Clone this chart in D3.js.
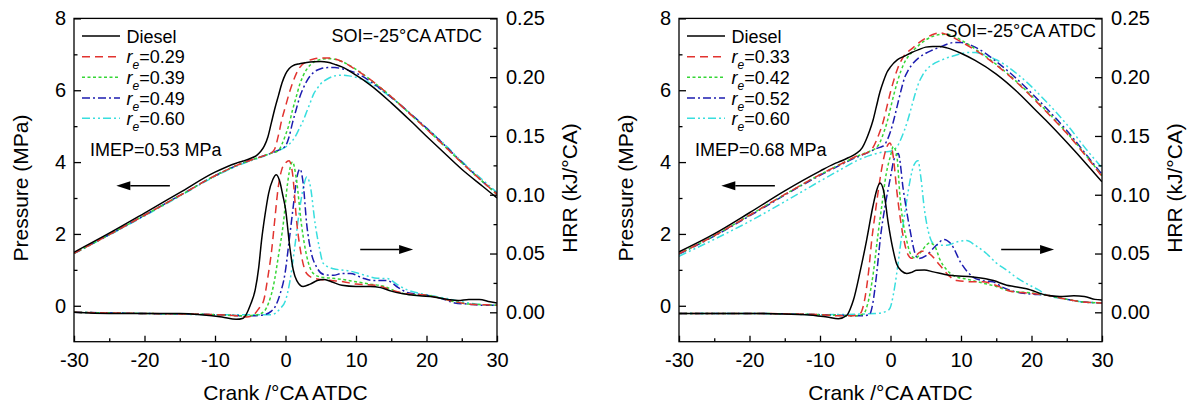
<!DOCTYPE html>
<html>
<head>
<meta charset="utf-8">
<style>
  body { margin: 0; background: #fff; }
  svg text { font-family: "Liberation Sans", Arial, sans-serif; fill: #000; }
  .axis line { stroke: #000; stroke-width: 1.3; }
  .axis path { display: none; }
  .axis text { font-size: 20px; font-family: "Liberation Sans", Arial, sans-serif; }
</style>
<script src="https://d3js.org/d3.v7.min.js"></script>
</head>
<body>
<svg id="chart" width="1190" height="407"></svg>
<script>
// ---- axis ticks ----
var crankMajor = [-30, -20, -10, 0, 10, 20, 30];
var crankMinor = [-25, -15, -5, 5, 15, 25];
var pressMajor = [0, 2, 4, 6, 8];
var pressMinor = [1, 3, 5, 7];
var hrrMajor = [0, 0.05, 0.1, 0.15, 0.2, 0.25];
var hrrMinor = [0.025, 0.075, 0.125, 0.175, 0.225];

// ---- legend / series ----
var leftLabels = ["Diesel", "0.29", "0.39", "0.49", "0.60"];
var rightLabels = ["Diesel", "0.33", "0.42", "0.52", "0.60"];
var colors = ["#000000", "#e2332f", "#36d636", "#1c1cb0", "#38dede"];
var dashes = [null, "8,5", "3,2.5", "8,3,2,3", "8,3,2,3,2,3"];

// ---- left panel: pressure (MPa) vs crank ----
var leftPDiesel = [[-30,1.49],[-25,2.02],[-20,2.58],[-15,3.15],[-10,3.72],[-7,3.97],[-6,4.03],[-5,4.1],[-4,4.2],[-3.5,4.3],[-3,4.45],[-2.5,4.7],[-2,5.1],[-1.5,5.5],[-1,5.85],[-0.5,6.2],[0,6.45],[0.5,6.6],[1,6.68],[2,6.74],[3,6.77],[4,6.79],[5,6.8],[6,6.78],[7,6.72],[8,6.65],[10,6.42],[12,6.15],[15,5.65],[18,5.1],[20,4.72],[22,4.35],[25,3.8],[28,3.32],[30,3.0]];
var leftPRe1 = [[-30,1.46],[-25,1.98],[-20,2.52],[-15,3.07],[-10,3.62],[-7,3.9],[-5,4.05],[-3,4.18],[-2,4.26],[-1.5,4.38],[-1,4.75],[-0.5,5.2],[0,5.55],[0.5,5.9],[1,6.2],[1.5,6.45],[2,6.63],[3,6.8],[4,6.87],[5,6.9],[6,6.9],[7,6.87],[8,6.8],[10,6.57],[12,6.3],[15,5.82],[18,5.28],[20,4.92],[22,4.55],[25,3.98],[28,3.45],[30,3.1]];
var leftPRe2 = [[-30,1.46],[-25,1.98],[-20,2.52],[-15,3.07],[-10,3.62],[-7,3.9],[-5,4.05],[-3,4.18],[-2,4.25],[-1,4.32],[-0.5,4.5],[0,4.75],[0.5,5.05],[1,5.45],[1.5,5.8],[2,6.15],[2.5,6.4],[3,6.58],[4,6.78],[5,6.86],[6,6.88],[7,6.86],[8,6.8],[10,6.58],[12,6.3],[15,5.82],[18,5.28],[20,4.92],[22,4.55],[25,3.98],[28,3.45],[30,3.1]];
var leftPRe3 = [[-30,1.46],[-25,1.98],[-20,2.52],[-15,3.07],[-10,3.62],[-7,3.9],[-5,4.05],[-3,4.18],[-2,4.25],[-1,4.33],[0,4.45],[0.5,4.7],[1,5.1],[1.5,5.45],[2,5.8],[2.5,6.05],[3,6.25],[3.5,6.4],[4,6.5],[5,6.6],[6,6.63],[7,6.63],[8,6.6],[10,6.48],[12,6.25],[15,5.8],[18,5.3],[20,4.95],[22,4.58],[25,4.0],[28,3.45],[30,3.12]];
var leftPRe4 = [[-30,1.45],[-25,1.97],[-20,2.5],[-15,3.05],[-10,3.6],[-7,3.88],[-5,4.03],[-3,4.17],[-2,4.25],[-1,4.32],[0,4.42],[1,4.6],[1.5,4.75],[2,4.95],[2.5,5.15],[3,5.4],[3.5,5.65],[4,5.9],[4.5,6.05],[5,6.18],[6,6.32],[7,6.4],[8,6.42],[9,6.4],[10,6.36],[12,6.2],[15,5.8],[18,5.3],[20,4.95],[22,4.6],[25,4.02],[28,3.5],[30,3.15]];

// ---- left panel: HRR (kJ/°CA) vs crank ----
var leftHDiesel = [[-30,0],[-25,-0.001],[-20,-0.001],[-15,-0.001],[-12,-0.002],[-9,-0.004],[-7,-0.006],[-6,-0.005],[-5.5,-0.001],[-5,0.006],[-4.3,0.019],[-3.8,0.038],[-3.4,0.061],[-2.9,0.083],[-2.4,0.101],[-1.8,0.113],[-1.3,0.117],[-0.8,0.111],[-0.4,0.1],[0,0.088],[0.6,0.056],[1.1,0.036],[1.6,0.027],[2.5,0.022],[3.5,0.024],[4.5,0.027],[5.4,0.028],[6.5,0.026],[8,0.023],[10,0.022],[12,0.022],[13.5,0.021],[15,0.018],[16.5,0.016],[19,0.014],[21,0.013],[23,0.011],[24.5,0.01],[26,0.011],[27.5,0.011],[29,0.009],[30,0.008]];
var leftHRe1 = [[-30,0],[-20,-0.001],[-10,-0.002],[-7,-0.003],[-5.5,-0.004],[-4.5,-0.002],[-3.8,0.003],[-3.1,0.01],[-2.5,0.03],[-1.96,0.053],[-1.5,0.08],[-1.06,0.105],[-0.5,0.122],[0,0.127],[0.5,0.129],[1,0.118],[1.6,0.076],[2.2,0.05],[3,0.033],[4,0.029],[5,0.028],[6.5,0.027],[8.2,0.026],[10,0.024],[12.9,0.023],[15,0.019],[17,0.016],[20,0.0145],[22,0.012],[24,0.009],[26,0.007],[28,0.0065],[30,0.006]];
var leftHRe2 = [[-30,0],[-20,-0.001],[-10,-0.002],[-6,-0.003],[-4,-0.002],[-3,0.001],[-2.4,0.008],[-1.73,0.022],[-1,0.048],[-0.3,0.076],[0.3,0.11],[0.7,0.124],[1,0.128],[1.5,0.115],[2.3,0.073],[3,0.048],[3.95,0.033],[5,0.03],[6.5,0.029],[8,0.028],[10,0.026],[12,0.024],[14,0.022],[16,0.017],[18,0.015],[20,0.0145],[22,0.012],[24,0.009],[26,0.007],[28,0.0065],[30,0.006]];
var leftHRe3 = [[-30,0],[-20,-0.001],[-10,-0.002],[-5,-0.003],[-3,-0.002],[-2,0.001],[-1.5,0.0045],[-0.8,0.015],[-0.07,0.033],[0.5,0.06],[1.1,0.09],[1.6,0.114],[2.06,0.122],[2.5,0.11],[3,0.0755],[3.6,0.052],[4.4,0.0386],[5.5,0.032],[6.8,0.0315],[8,0.033],[9.2,0.033],[11,0.029],[12.5,0.027],[14.4,0.027],[16,0.021],[17.2,0.017],[20,0.0145],[22,0.012],[24,0.008],[26,0.007],[28,0.006],[30,0.006]];
var leftHRe4 = [[-30,0],[-20,-0.001],[-10,-0.002],[-5,-0.002],[-2,-0.002],[-0.78,0.003],[0,0.01],[0.64,0.027],[1.3,0.055],[2.06,0.09],[2.6,0.108],[3,0.115],[3.5,0.108],[4.2,0.0755],[4.8,0.055],[5.37,0.0415],[6.8,0.037],[8,0.036],[9.2,0.035],[11,0.032],[13,0.029],[14.4,0.0287],[16,0.023],[17.2,0.0193],[20,0.015],[22.9,0.0117],[25,0.009],[27,0.007],[30,0.006]];

// ---- right panel: pressure (MPa) vs crank ----
var rightPDiesel = [[-30,1.5],[-25,2.0],[-20,2.59],[-15,3.2],[-10,3.75],[-8,3.95],[-7,4.03],[-6,4.12],[-5,4.22],[-4,4.4],[-3.5,4.6],[-3,4.85],[-2.5,5.15],[-2,5.55],[-1.5,5.95],[-1,6.25],[-0.5,6.5],[0,6.65],[1,6.85],[2,6.95],[3,7.05],[4,7.13],[5,7.2],[6,7.22],[7,7.22],[8,7.18],[10,7.03],[12,6.83],[15,6.45],[18,5.95],[20,5.56],[22,5.17],[25,4.55],[28,3.9],[30,3.45]];
var rightPRe1 = [[-30,1.45],[-25,1.95],[-20,2.52],[-15,3.1],[-10,3.65],[-7,3.95],[-5,4.15],[-3,4.3],[-2.5,4.4],[-2,4.6],[-1.5,4.85],[-1,5.15],[-0.5,5.55],[0,5.95],[0.5,6.3],[1,6.6],[1.5,6.82],[2,6.98],[3,7.15],[4,7.32],[5,7.45],[6,7.55],[7,7.6],[8,7.55],[10,7.35],[12,7.12],[15,6.7],[18,6.2],[20,5.82],[22,5.42],[25,4.8],[28,4.1],[30,3.6]];
var rightPRe2 = [[-30,1.45],[-25,1.95],[-20,2.52],[-15,3.1],[-10,3.65],[-7,3.95],[-5,4.14],[-3,4.3],[-2,4.4],[-1.5,4.55],[-1,4.8],[-0.5,5.1],[0,5.5],[0.5,5.9],[1,6.25],[1.5,6.55],[2,6.78],[3,7.05],[4,7.25],[5,7.4],[6,7.5],[7,7.55],[8,7.56],[9,7.5],[10,7.4],[12,7.15],[15,6.72],[18,6.22],[20,5.85],[22,5.45],[25,4.82],[28,4.12],[30,3.62]];
var rightPRe3 = [[-30,1.44],[-25,1.94],[-20,2.5],[-15,3.08],[-10,3.63],[-7,3.93],[-5,4.12],[-3,4.28],[-2,4.38],[-1,4.45],[-0.5,4.6],[0,4.85],[0.5,5.2],[1,5.6],[1.5,6.0],[2,6.35],[2.5,6.55],[3,6.7],[4,6.9],[5,7.03],[6,7.12],[7,7.2],[8,7.28],[9,7.33],[10,7.33],[11,7.28],[12,7.2],[15,6.8],[18,6.3],[20,5.92],[22,5.52],[25,4.88],[28,4.15],[30,3.66]];
var rightPRe4 = [[-30,1.38],[-25,1.85],[-20,2.35],[-15,2.9],[-10,3.47],[-7,3.8],[-5,4.02],[-3,4.18],[-1,4.28],[0,4.3],[1,4.45],[1.5,4.65],[2,4.9],[2.5,5.2],[3,5.55],[3.5,5.9],[4,6.2],[4.5,6.4],[5,6.55],[6,6.72],[7,6.82],[8,6.9],[9,6.96],[10,7.02],[11,7.05],[12,7.05],[13,7.0],[15,6.85],[18,6.45],[20,6.1],[22,5.7],[25,5.05],[28,4.3],[30,3.84]];

// ---- right panel: HRR (kJ/°CA) vs crank ----
var rightHDiesel = [[-30,-0.001],[-20,-0.001],[-12,-0.002],[-9,-0.004],[-7.4,-0.0054],[-6.2,-0.0026],[-5.7,0.003],[-5.27,0.0102],[-4.3,0.035],[-3.4,0.061],[-2.5,0.09],[-2,0.103],[-1.49,0.11],[-1,0.104],[-0.31,0.0755],[0.3,0.055],[0.88,0.041],[1.6,0.035],[2.3,0.033],[3,0.034],[3.7,0.0358],[4.8,0.036],[6.07,0.0344],[8.4,0.0315],[11.7,0.03],[14.6,0.027],[16.5,0.023],[17.5,0.022],[19.3,0.02],[22.2,0.0145],[24,0.0135],[26,0.014],[27.5,0.0135],[29,0.011],[30,0.0105]];
var rightHRe1 = [[-30,-0.001],[-20,-0.001],[-10,-0.002],[-7,-0.003],[-5.5,-0.003],[-4.3,-0.001],[-3.6,0.013],[-3.1,0.035],[-2.67,0.061],[-2.2,0.083],[-1.72,0.104],[-1,0.13],[-0.5,0.141],[-0.07,0.144],[0.4,0.132],[0.88,0.104],[1.82,0.064],[2.4,0.05],[3,0.046],[4.5,0.052],[5.5,0.05],[7,0.04],[8.3,0.031],[9.4,0.027],[11.7,0.026],[13,0.026],[15.5,0.0216],[17,0.018],[19.3,0.0165],[22.2,0.0145],[25,0.011],[27,0.009],[30,0.008]];
var rightHRe2 = [[-30,-0.001],[-20,-0.001],[-10,-0.002],[-5,-0.003],[-3.8,-0.001],[-3.2,0.008],[-2.45,0.033],[-1.8,0.065],[-1.25,0.09],[-0.6,0.118],[0,0.133],[0.4,0.141],[0.9,0.133],[1.35,0.098],[2.3,0.061],[3,0.048],[3.6,0.046],[4.5,0.053],[5.6,0.059],[6.3,0.056],[7,0.045],[8,0.036],[9,0.031],[11,0.028],[13,0.025],[15,0.022],[17,0.018],[20,0.0165],[22.2,0.0145],[25,0.011],[27,0.009],[30,0.008]];
var rightHRe3 = [[-30,-0.001],[-20,-0.001],[-10,-0.002],[-4,-0.003],[-3,-0.002],[-2.5,0.008],[-1.96,0.033],[-1.4,0.065],[-0.78,0.09],[0,0.115],[0.5,0.13],[1.1,0.135],[1.82,0.104],[2.77,0.07],[3.48,0.05],[3.94,0.0457],[5,0.048],[6.5,0.057],[7.6,0.062],[8.6,0.058],[10,0.042],[11.7,0.03],[13,0.027],[14.5,0.026],[16,0.021],[18,0.017],[20,0.0155],[22.2,0.0145],[25,0.011],[27,0.009],[30,0.008]];
var rightHRe4 = [[-30,-0.001],[-20,-0.001],[-10,-0.002],[-2,-0.001],[-0.5,0.001],[-0.07,0.0035],[0.4,0.015],[0.88,0.033],[1.3,0.052],[1.82,0.076],[2.3,0.095],[2.77,0.112],[3.3,0.125],[3.9,0.129],[4.3,0.115],[4.8,0.088],[5.4,0.068],[6.07,0.0585],[6.8,0.057],[8,0.057],[9.5,0.06],[10.8,0.061],[12,0.057],[13.6,0.05],[15,0.042],[16.5,0.0358],[18,0.029],[19.3,0.0244],[21,0.019],[22.2,0.0145],[25,0.011],[27,0.009],[30,0.008]];

// annotations: arrows in data units [x start, x end, pressure]
var leftArrow = [-16.4, -24.0, 3.34];
var rightArrowA = [10.6, 18.1, 1.57];
var rightArrowB = [15.7, 23.2, 1.57];

var panels = [
  { x0: 74, x1: 497, labels: leftLabels, imep: "IMEP=0.53 MPa",
    pressure: [leftPDiesel, leftPRe1, leftPRe2, leftPRe3, leftPRe4],
    hrr: [leftHDiesel, leftHRe1, leftHRe2, leftHRe3, leftHRe4],
    soiX: 482, soiY: 41.5, arrows: [leftArrow, rightArrowA] },
  { x0: 679, x1: 1102, labels: rightLabels, imep: "IMEP=0.68 MPa",
    pressure: [rightPDiesel, rightPRe1, rightPRe2, rightPRe3, rightPRe4],
    hrr: [rightHDiesel, rightHRe1, rightHRe2, rightHRe3, rightHRe4],
    soiX: 1096, soiY: 37, arrows: [leftArrow, rightArrowB] }
];

var plotTop = 18.4, plotBottom = 341.7;
var svg = d3.select("#chart");
svg.append("rect").attr("width", 1190).attr("height", 407).attr("fill", "#fff");

panels.forEach(function(p, pi) {
  var x = d3.scaleLinear().domain([-30, 30]).range([p.x0, p.x1]);
  var yP = d3.scaleLinear().domain([-1, 8]).range([plotBottom, plotTop]);
  var yH = d3.scaleLinear().domain([-0.025, 0.25]).range([plotBottom, plotTop]);
  var g = svg.append("g");

  var clipId = "clip" + pi;
  svg.append("clipPath").attr("id", clipId).append("rect")
    .attr("x", p.x0).attr("y", plotTop).attr("width", p.x1 - p.x0).attr("height", plotBottom - plotTop);

  // curves
  var lineP = d3.line().x(function(d) { return x(d[0]); }).y(function(d) { return yP(d[1]); }).curve(d3.curveMonotoneX);
  var lineH = d3.line().x(function(d) { return x(d[0]); }).y(function(d) { return yH(d[1]); }).curve(d3.curveMonotoneX);
  var curves = g.append("g").attr("clip-path", "url(#" + clipId + ")");
  [4, 3, 2, 1, 0].forEach(function(i) {
    [[p.pressure[i], lineP], [p.hrr[i], lineH]].forEach(function(s) {
      curves.append("path").datum(s[0])
        .attr("d", s[1])
        .attr("fill", "none")
        .attr("stroke", colors[i])
        .attr("stroke-width", 1.5)
        .attr("stroke-dasharray", dashes[i]);
    });
  });

  // axes with inward ticks
  var fmtX = function(d) { return String(d); };
  g.append("g").attr("class", "axis").attr("transform", "translate(0," + plotBottom + ")")
    .call(d3.axisBottom(x).tickValues(crankMajor).tickSizeInner(-6).tickSizeOuter(0).tickPadding(11).tickFormat(fmtX));
  g.append("g").attr("class", "axis").attr("transform", "translate(0," + plotBottom + ")")
    .call(d3.axisBottom(x).tickValues(crankMinor).tickSizeInner(-3.5).tickSizeOuter(0).tickFormat(""));
  g.append("g").attr("class", "axis").attr("transform", "translate(" + p.x0 + ",0)")
    .call(d3.axisLeft(yP).tickValues(pressMajor).tickSizeInner(-7).tickSizeOuter(0).tickPadding(8).tickFormat(d3.format("d")));
  g.append("g").attr("class", "axis").attr("transform", "translate(" + p.x0 + ",0)")
    .call(d3.axisLeft(yP).tickValues(pressMinor).tickSizeInner(-3.5).tickSizeOuter(0).tickFormat(""));
  g.append("g").attr("class", "axis").attr("transform", "translate(" + p.x1 + ",0)")
    .call(d3.axisRight(yH).tickValues(hrrMajor).tickSizeInner(-7).tickSizeOuter(0).tickPadding(9).tickFormat(d3.format(".2f")));
  g.append("g").attr("class", "axis").attr("transform", "translate(" + p.x1 + ",0)")
    .call(d3.axisRight(yH).tickValues(hrrMinor).tickSizeInner(-3.5).tickSizeOuter(0).tickFormat(""));

  // frame
  g.append("rect").attr("x", p.x0).attr("y", plotTop).attr("width", p.x1 - p.x0).attr("height", plotBottom - plotTop)
    .attr("fill", "none").attr("stroke", "#000").attr("stroke-width", 1.3);

  // axis titles
  var cy = 188;
  g.append("text").attr("transform", "translate(" + (p.x0 - 53) + "," + cy + ") rotate(-90)")
    .attr("text-anchor", "middle").attr("dy", "0.35em").style("font-size", "21px").text("Pressure (MPa)");
  g.append("text").attr("transform", "translate(" + (p.x1 + 73) + "," + cy + ") rotate(-90)")
    .attr("text-anchor", "middle").attr("dy", "0.35em").style("font-size", "21px").text("HRR (kJ/°CA)");
  g.append("text").attr("x", (p.x0 + p.x1) / 2).attr("y", 400)
    .attr("text-anchor", "middle").style("font-size", "21px").text("Crank /°CA ATDC");

  // legend
  var rowY = [36, 56.7, 77.3, 98, 118.3];
  p.labels.forEach(function(lab, i) {
    g.append("line").attr("x1", p.x0 + 8).attr("x2", p.x0 + 46)
      .attr("y1", rowY[i]).attr("y2", rowY[i])
      .attr("stroke", colors[i]).attr("stroke-width", 1.5).attr("stroke-dasharray", dashes[i]);
    var t = g.append("text").attr("x", p.x0 + 52.5).attr("y", rowY[i] + 6.5).style("font-size", "18px");
    if (i === 0) {
      t.text(lab);
    } else {
      t.append("tspan").style("font-style", "italic").text("r");
      t.append("tspan").style("font-style", "italic").style("font-size", "12px").attr("dy", 6).text("e");
      t.append("tspan").attr("dy", -6).text("=" + lab);
    }
  });

  // annotations
  g.append("text").attr("x", p.soiX).attr("y", p.soiY).attr("text-anchor", "end")
    .style("font-size", "18px").text("SOI=-25°CA ATDC");
  g.append("text").attr("x", p.x0 + 16).attr("y", 155.5)
    .style("font-size", "18px").text(p.imep);

  p.arrows.forEach(function(a) {
    var xs = x(a[0]), xe = x(a[1]), yy = yP(a[2]);
    var dir = xe > xs ? 1 : -1;
    var head = 14;
    g.append("line").attr("x1", xs).attr("x2", xe - dir * head).attr("y1", yy).attr("y2", yy)
      .attr("stroke", "#000").attr("stroke-width", 1.5);
    g.append("path")
      .attr("d", "M" + xe + "," + yy + "L" + (xe - dir * head) + "," + (yy - 4.5) + "L" + (xe - dir * head) + "," + (yy + 4.5) + "Z")
      .attr("fill", "#000");
  });
});
</script>
</body>
</html>
